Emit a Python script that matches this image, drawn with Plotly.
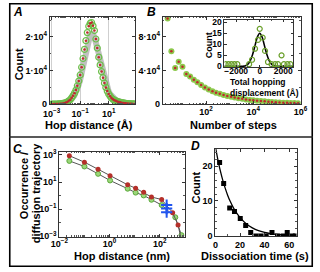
import plotly.graph_objects as go

W, H = 320, 272
FONT = "Liberation Sans, Arial, Helvetica, sans-serif"

# ---------------- Panel A: hop distance histogram ----------------
a_hop = [0.001, 0.00126, 0.00158, 0.002, 0.00251, 0.00316, 0.00398, 0.00501, 0.00631, 0.00794,
         0.01, 0.0126, 0.0158, 0.02, 0.0251, 0.0316, 0.0398, 0.0501, 0.0631, 0.0794,
         0.1, 0.126, 0.158, 0.2, 0.251, 0.316, 0.398, 0.501, 0.631, 0.794,
         1.0, 1.26, 1.58, 2.0, 2.51, 3.16, 3.98, 5.01, 6.31, 7.94,
         10.0, 12.6, 15.8, 20.0, 25.1, 31.6, 39.8, 50.1, 63.1, 79.4,
         100, 126, 158, 200, 251, 316, 398, 501, 631]
a_count = [20, 30, 40, 50, 70, 90, 120, 170, 230, 320,
           480, 700, 1000, 1350, 1900, 2550, 3300, 4200, 5500, 6900,
           8700, 11000, 13600, 16300, 18900, 21300, 23200, 24100, 24300, 23300,
           21900, 19400, 16700, 14000, 11700, 9700, 7900, 6300, 5000, 3900,
           3050, 2400, 1850, 1450, 1200, 1000, 830, 690, 570, 470,
           390, 320, 260, 220, 180, 150, 120, 100, 80]
a_gray = [20, 30, 40, 50, 60, 80, 110, 150, 200, 280,
          400, 580, 820, 1130, 1550, 2100, 2750, 3550, 4600, 5800,
          7300, 9100, 11300, 13600, 15900, 18000, 19700, 20700, 21000, 20800,
          19900, 18300, 16300, 14200, 12200, 10300, 8600, 7100, 5800, 4700,
          3800, 3050, 2450, 1950, 1600, 1300, 1070, 880, 720, 590,
          480, 390, 320, 260, 210, 170, 140, 110, 90]
a_xticks = [1e-3, 1e-1, 1e1]
a_xticktext = ["10<sup>−3</sup>", "10<sup>−1</sup>", "10<sup>1</sup>"]
a_yticks = [0, 1e4, 2e4]
a_yticktext = ["0", "1·10<sup>4</sup>", "2·10<sup>4</sup>"]

# ---------------- Panel B: number of steps ----------------
b_steps = [2.34, 3.39, 4.9, 6.9, 10, 14.5, 20.9, 30.2, 42.7, 61.7, 89.1, 129, 186, 263, 380, 550,
           794, 1148, 1622, 2344, 3388, 4898, 7079, 10000, 14450, 20890, 30200, 43650, 61660,
           89130, 128800, 186200, 269200, 380200, 549500, 794300]
b_count = [102000, 63000, 43000, 50500, 44500, 36000, 33000, 29000, 26000, 23000, 20000, 17500,
           15500, 13800, 12400, 11000, 9800, 8800, 7900, 7100, 6400, 5700, 5100, 4600, 4200,
           3800, 3400, 3000, 2700, 2400, 2100, 1900, 1700, 1500, 1350, 1200]
b_xticks = [1, 1e2, 1e4, 1e6]
b_xticktext = ["10<sup>0</sup>", "10<sup>2</sup>", "10<sup>4</sup>", "10<sup>6</sup>"]
b_yticks = [0, 4e4, 8e4]
b_yticktext = ["0", "4·10<sup>4</sup>", "8·10<sup>4</sup>"]

# inset: total hopping displacement
in_disp = [-2900, -2650, -2400, -2150, -1900, -900, -650, -400, -150, 0, 250, 450, 700,
           1000, 1300, 1550, 1850, 2050, 2350, 2600]
in_count = [1, 1, 1, 1, 1, 1, 3, 8, 12, 17, 13, 7, 2, 1, 1, 1, 5, 1, 1, 1]
in_fit_x = [-3000, -1600, -1400, -1200, -1000, -800, -600, -400, -200, 0, 200, 400, 600, 800,
            1000, 1200, 1400, 1600, 2850]
in_fit_y = [0, 0, 0.1, 0.3, 1.0, 2.6, 5.5, 9.4, 13.3, 15, 13.3, 9.4, 5.5, 2.6, 1.0, 0.3, 0.1, 0, 0]

# ---------------- Panel C: occurrence per trajectory ----------------
c_hop_red = [0.025, 0.1, 0.35, 1.05, 5.3, 11, 23, 47, 120, 330, 540, 740]
c_occ_red = [870, 290, 87, 29, 6.2, 3.5, 1.75, 0.78, 0.51, 0.055, 0.0068, 0.0005]
c_hop_green = [0.025, 0.1, 0.35, 1.05, 5.3, 11, 23, 47, 120, 420, 740]
c_occ_green = [360, 140, 40, 13, 3.2, 1.65, 1.02, 0.49, 0.2, 0.025, 0.0012]
c_hop_blue = [190, 190, 190]
c_occ_blue = [0.2, 0.11, 0.06]

# ---------------- Panel D: dissociation time ----------------
d_time = [3.4, 6.7, 11.6, 15.5, 20.2, 24.6, 28.7, 33, 37, 41.3, 46, 50.5, 55, 58.4, 62.6, 65]
d_count = [21, 15, 8, 7, 5, 3, 1, 0, 0, 0, 1, 0, 0, 1, 0, 0]
d_fit_t = [0, 2, 4, 6, 8, 10, 12, 15, 18, 21, 25, 30, 35, 40, 45, 50, 55, 60, 65]
d_fit_c = [25.5, 21.8, 18.6, 15.9, 13.6, 11.6, 9.9, 7.8, 6.2, 4.9, 3.5, 2.3, 1.5, 1.0, 0.65,
           0.42, 0.27, 0.18, 0.12]

GREEN = "#6cbf4a"
RED = "#c0282d"

fig = go.Figure()

# A
fig.add_trace(go.Scatter(x=a_hop, y=a_gray, mode="lines", line=dict(color="rgba(165,165,165,0.7)", width=6),
                         xaxis="x", yaxis="y", hoverinfo="skip"))
fig.add_trace(go.Scatter(x=a_hop, y=a_count, mode="markers", xaxis="x", yaxis="y",
                         marker=dict(symbol="circle-open", size=6, color=GREEN, line=dict(width=1.2))))
fig.add_trace(go.Scatter(x=a_hop, y=a_count, mode="markers", xaxis="x", yaxis="y",
                         marker=dict(symbol="circle", size=2.5, color=RED)))
# B
fig.add_trace(go.Scatter(x=b_steps, y=b_count, mode="markers", xaxis="x2", yaxis="y2",
                         marker=dict(symbol="circle", size=6, color="#8cc84b")))
fig.add_trace(go.Scatter(x=b_steps, y=b_count, mode="markers", xaxis="x2", yaxis="y2",
                         marker=dict(symbol="circle", size=2.5, color=RED)))
# inset
fig.add_trace(go.Scatter(x=in_fit_x, y=in_fit_y, mode="lines", xaxis="x3", yaxis="y3",
                         line=dict(color="black", width=1.6, shape="spline")))
fig.add_trace(go.Scatter(x=in_disp, y=in_count, mode="markers", xaxis="x3", yaxis="y3",
                         marker=dict(symbol="circle-open", size=5, color="#6a9f2a", line=dict(width=1.2))))
# C
fig.add_trace(go.Scatter(x=c_hop_green, y=c_occ_green, mode="lines+markers", xaxis="x4", yaxis="y4",
                         line=dict(color="#555", width=1),
                         marker=dict(symbol="circle", size=5, color="#9bd67a", line=dict(color="#5aa83a", width=1))))
fig.add_trace(go.Scatter(x=c_hop_red, y=c_occ_red, mode="lines+markers", xaxis="x4", yaxis="y4",
                         line=dict(color="#555", width=1),
                         marker=dict(symbol="circle", size=5, color="#b5302a")))
fig.add_trace(go.Scatter(x=c_hop_blue, y=c_occ_blue, mode="markers", xaxis="x4", yaxis="y4",
                         marker=dict(symbol="cross-thin", size=8, color="#2255ee", line=dict(width=2, color="#2255ee"))))
# D
fig.add_trace(go.Scatter(x=d_fit_t, y=d_fit_c, mode="lines", xaxis="x5", yaxis="y5",
                         line=dict(color="black", width=1.3, shape="spline")))
fig.add_trace(go.Scatter(x=d_time, y=d_count, mode="markers", xaxis="x5", yaxis="y5",
                         marker=dict(symbol="square", size=5, color="black")))


def dom_x(x0, x1):
    return [x0 / W, x1 / W]


def dom_y(y0, y1):
    return [1 - y1 / H, 1 - y0 / H]


def axis(domain, anchor, **kw):
    d = dict(domain=domain, anchor=anchor, showline=True, linecolor="#333", linewidth=1,
             mirror="ticks", ticks="inside", ticklen=3, tickwidth=1, tickcolor="#333",
             showgrid=False, zeroline=False,
             tickfont=dict(family=FONT, size=9, color="black", weight="bold"))
    d.update(kw)
    return d


def log_minor(e0, e1, skip):
    return [m * 10 ** e for e in range(e0, e1) for m in range(1, 10)
            if not (m == 1 and e in skip)]


minor_small = dict(ticks="inside", ticklen=1.5, tickcolor="#555", tickwidth=1, showgrid=False)

fig.update_layout(
    width=W, height=H, autosize=False,
    margin=dict(l=0, r=0, t=0, b=0, pad=0),
    paper_bgcolor="white", plot_bgcolor="white", showlegend=False,
    font=dict(family=FONT, color="black"),
    xaxis=axis(dom_x(43, 133), "y", type="log", range=[-3.13, 2.87], tickmode="array",
               tickvals=a_xticks, ticktext=a_xticktext, showgrid=True, gridcolor="#cfcfcf", gridwidth=1.3,
               ticklabelstandoff=1,
               minor=dict(minor_small, tickmode="array", tickvals=log_minor(-4, 3, (-3, -1, 1)))),
    yaxis=axis(dom_y(14, 104.3), "x", range=[0, 2.606e4], tickmode="array",
               tickvals=a_yticks, ticktext=a_yticktext,
               minor=dict(minor_small, tickmode="array", tickvals=[5e3, 1.5e4, 2.5e4])),
    xaxis2=axis(dom_x(162, 307), "y2", type="log", range=[0.17, 6.005], tickmode="array",
                tickvals=b_xticks, ticktext=b_xticktext, ticklabelstandoff=-1,
                minor=dict(minor_small, tickmode="array", tickvals=log_minor(0, 6, (0, 2, 4)))),
    yaxis2=axis(dom_y(14, 104.3), "x2", range=[0, 1.042e5], tickmode="array",
                tickvals=b_yticks, ticktext=b_yticktext,
                minor=dict(minor_small, tickmode="array", tickvals=[2e4, 6e4, 1e5])),
    xaxis3=axis(dom_x(226.7, 299.3), "y3", range=[-3000, 2850], tickmode="array",
                tickvals=[-2000, 0, 2000], ticklen=2.5, ticklabelstandoff=-4,
                tickfont=dict(family=FONT, size=8.5, color="black", weight="bold"),
                minor=dict(minor_small, tickmode="array", tickvals=[-3000, -1000, 1000])),
    yaxis3=axis(dom_y(17.5, 66), "x3", range=[-0.3, 21], tickmode="array",
                tickvals=[0, 5, 10, 15, 20], ticklen=2.5,
                tickfont=dict(family=FONT, size=8.5, color="black", weight="bold")),
    xaxis4=axis(dom_x(53, 185), "y4", type="log", range=[-2, 3], tickmode="array",
                tickvals=[1e-2, 1, 1e2], ticktext=["10<sup>−2</sup>", "10<sup>0</sup>", "10<sup>2</sup>"],
                ticklabelstandoff=-2,
                minor=dict(minor_small, tickmode="array", tickvals=log_minor(-2, 3, (-2, 0, 2)))),
    yaxis4=axis(dom_y(153, 241), "x4", type="log", range=[-3.05, 3.25], tickmode="array",
                tickvals=[1e-3, 1e-1, 1e1, 1e3],
                ticktext=["10<sup>−3</sup>", "10<sup>−1</sup>", "10<sup>1</sup>", "10<sup>3</sup>"],
                minor=dict(minor_small, tickmode="array", tickvals=[1e-2, 1, 1e2])),
    xaxis5=axis(dom_x(217.3, 302.7), "y5", range=[0, 66], tickmode="array",
                tickvals=[0, 20, 40, 60],
                minor=dict(minor_small, tickmode="array", tickvals=[10, 30, 50])),
    yaxis5=axis(dom_y(150, 240), "x5", range=[0, 25], tickmode="array",
                tickvals=[0, 10, 20],
                minor=dict(minor_small, tickmode="array", tickvals=[2, 4, 6, 8, 12, 14, 16, 18, 22, 24])),
)

ann = []


def txt(text, x, y, size=11, angle=0, style="normal", xanchor="center", align="center"):
    ann.append(dict(text=text, x=x / W, y=1 - y / H, xref="paper", yref="paper", showarrow=False,
                    textangle=angle, xanchor=xanchor, yanchor="middle", align=align,
                    font=dict(family=FONT, size=size, color="black", weight="bold", style=style)))


txt("A", 9, 9.5, size=12, style="italic")
txt("B", 150.5, 9.5, size=12, style="italic")
txt("C", 8.5, 150, size=12, style="italic")
txt("D", 196, 147, size=12, style="italic")
txt("Hop distance (Å)", 84, 126)
txt("Count", 10, 63.5, angle=-90)
txt("Number of steps", 236, 125.5)
txt("Count", 210, 44, size=9, angle=-90)
txt("Total hopping<br>displacement (Å)", 230, 87, size=8.5, xanchor="left", align="left")
txt("Occurrence /", 16.5, 188, angle=-90)
txt("diffusion trajectory", 28.5, 196, angle=-90)
txt("Hop distance (nm)", 119, 261)
txt("Count", 197, 190, angle=-90)
txt("Dissociation time (s)", 258.5, 261)

fig.update_layout(annotations=ann)

fig.update_layout(shapes=[
    dict(type="rect", xref="paper", yref="paper", x0=0.8 / W, x1=1 - 0.8 / W, y0=0.8 / H, y1=1 - 0.8 / H,
         line=dict(color="black", width=1.6)),
    dict(type="line", xref="paper", yref="paper", x0=0, x1=1, y0=1 - 138 / H, y1=1 - 138 / H,
         line=dict(color="#222", width=1.5)),
])

fig.write_html("out.html", config={"displayModeBar": False},
               post_script="document.body.style.margin='0px';document.body.style.overflow='hidden';")
